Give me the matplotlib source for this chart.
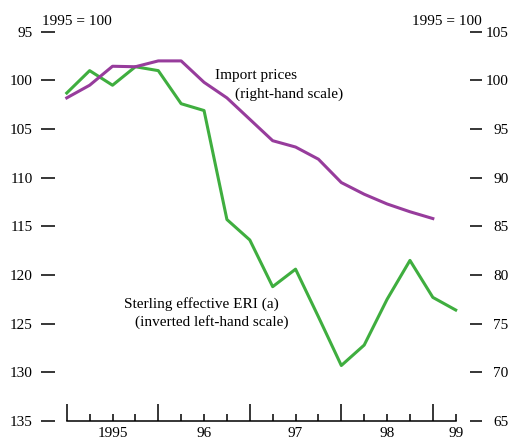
import matplotlib
matplotlib.use('Agg')
import matplotlib.pyplot as plt
import numpy as np

plt.rcParams['font.family'] = ['Liberation Serif', 'DejaVu Serif']

# quarterly, index 0 = first quarter shown
sterling_eri = [101.3, 99.0, 100.5, 98.6, 99.0, 102.4, 103.1, 114.3, 116.4,
                121.2, 119.4, 124.3, 129.3, 127.2, 122.5, 118.5, 122.3, 123.6]
import_prices = [98.2, 99.5, 101.45, 101.4, 102.0, 102.0, 99.8, 98.2, 96.0,
                 93.8, 93.15, 91.9, 89.5, 88.3, 87.3, 86.5, 85.8]

left_ticks = [95, 100, 105, 110, 115, 120, 125, 130, 135]
right_ticks = [105, 100, 95, 90, 85, 80, 75, 70, 65]
year_major = [0, 4, 8, 12, 16]
year_labels = {2: '1995', 6: '96', 10: '97', 14: '98', 17: '99'}

green = '#3fae3f'
purple = '#973c9c'

fig = plt.figure(figsize=(5.12, 4.41), dpi=100)
ax = fig.add_axes([0.09375, 0.0454, 0.8352, 0.8827])
ax2 = ax.twinx()

ax.plot(range(len(sterling_eri)), sterling_eri, color=green, lw=2.2, zorder=3)
ax2.plot(range(len(import_prices)), import_prices, color=purple, lw=2.2, zorder=3)

ax.set_xlim(-0.82, 17.87)
ax.set_ylim(135, 95)
ax2.set_ylim(65, 105)

for a in (ax, ax2):
    for s in ('top', 'left', 'right'):
        a.spines[s].set_visible(False)
ax2.spines['bottom'].set_visible(False)
ax.spines['bottom'].set_bounds(0, 17)
ax.spines['bottom'].set_linewidth(1.1)

ax.set_yticks(left_ticks)
ax.tick_params(axis='y', direction='inout', length=10, width=1.1, labelsize=11, pad=6)
ax2.set_yticks(right_ticks)
ax2.tick_params(axis='y', direction='inout', length=9, width=1.1, labelsize=11, pad=19)
for lab in ax2.get_yticklabels():
    lab.set_horizontalalignment('right')

ax.set_xticks(year_major)
ax.set_xticklabels([''] * len(year_major))
minor = [i for i in range(18) if i not in year_major]
ax.set_xticks(minor, minor=True)
ax.set_xticklabels([year_labels.get(i, '') for i in minor], minor=True)
ax.tick_params(axis='x', which='major', direction='in', length=12, width=1.1)
ax.tick_params(axis='x', which='minor', direction='in', length=5, width=1.1,
               labelsize=11, pad=4)

ax.text(-1.08, 93.9, '1995 = 100', fontsize=11, va='center', ha='left')
ax.text(15.1, 93.9, '1995 = 100', fontsize=11, va='center', ha='left')

ax.text(6.5, 99.55, 'Import prices', fontsize=11, va='center', ha='left')
ax.text(7.35, 101.4, '(right-hand scale)', fontsize=11, va='center', ha='left')
ax.text(2.5, 123.0, 'Sterling effective ERI (a)', fontsize=11, va='center', ha='left')
ax.text(2.98, 124.85, '(inverted left-hand scale)', fontsize=11, va='center', ha='left')

fig.savefig('out.png', dpi=100)
